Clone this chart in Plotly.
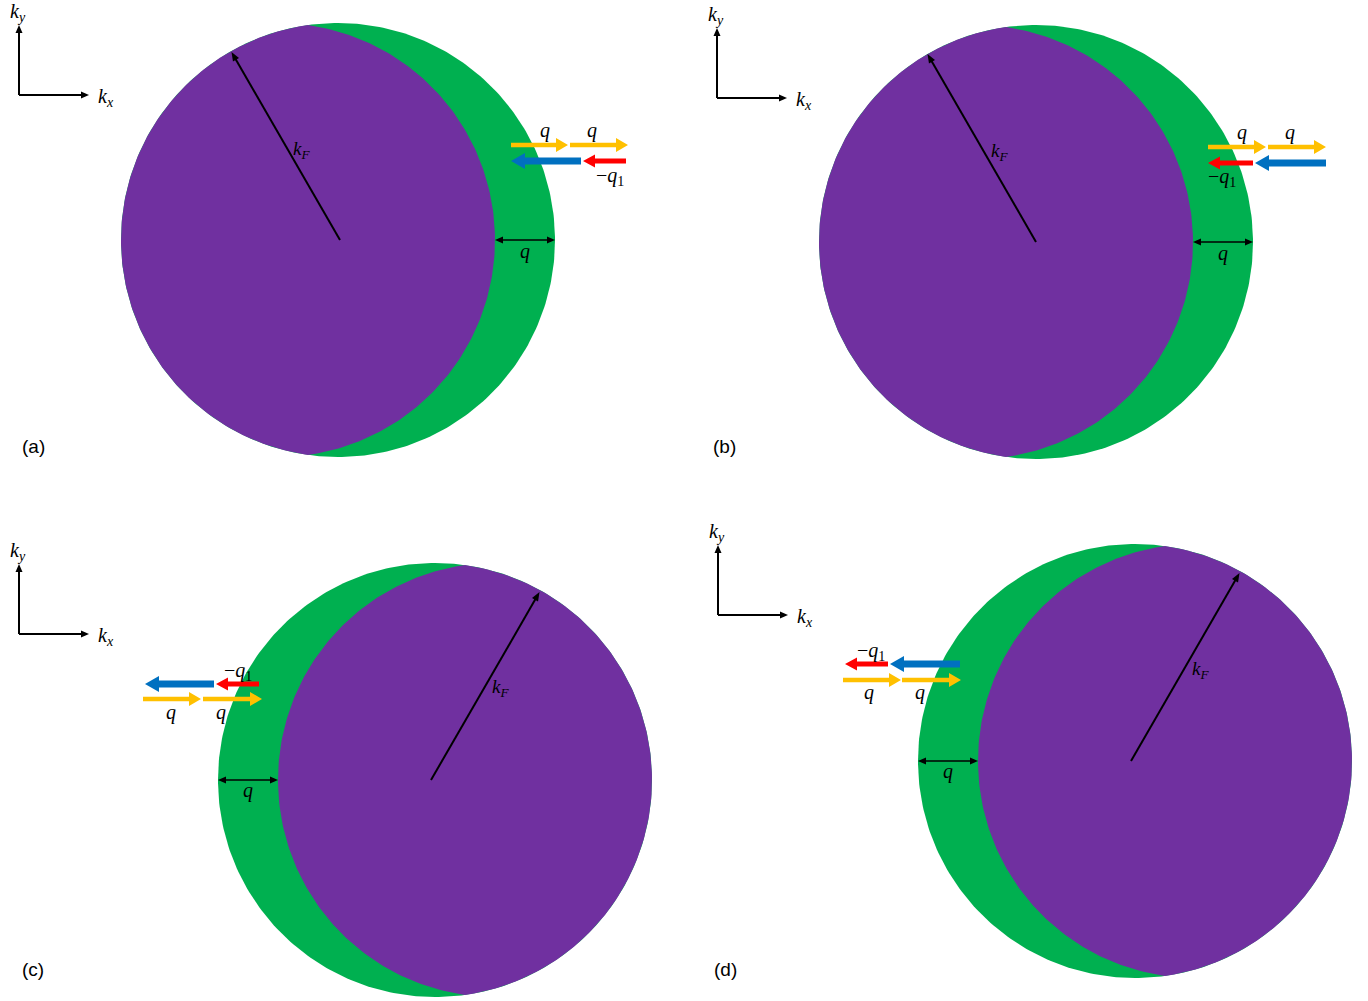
import numpy as np
import plotly.graph_objects as go

# Canvas in pixel units (y grows downward)
W, H = 1368, 1001

# Four panels: shifted Fermi disk (purple overlap, green crescent)
panel_labels = ["(a)", "(b)", "(c)", "(d)"]
label_x = [33, 724, 33, 725]
label_y = [446, 446, 969, 969]
center_x = [338, 1036, 435, 1135]
center_y = [240, 242, 780, 761]
fermi_radius = 217
shift_q = 60
crescent_side = [1, 1, -1, -1]      # +1: crescent to the right of the overlap
kf_angle_deg = [120, 120, 60, 60]
kf_origin_dx = [2, 0, -4, -4]
kf_label_dx = [-37, -37, 65, 65]
kf_label_dy = [-90, -90, -92, -91]
q_label_dy = [11, 11, 10, 10]

# k-space axes glyph per panel
axis_origin_x = [19, 717, 19, 718]
axis_origin_y = [95, 98, 634, 615]
axis_len = 70

# Scattering arrows: (panel, x_start, x_end, y, kind)
arrow_panel = [0, 0, 0, 0, 1, 1, 1, 1, 2, 2, 2, 2, 3, 3, 3, 3]
arrow_x0 = [511, 570, 581, 626, 1208, 1268, 1253, 1326, 214, 259, 143, 203, 888, 960, 843, 902]
arrow_x1 = [568, 628, 511, 583, 1266, 1326, 1208, 1255, 145, 216, 201, 262, 845, 890, 901, 961]
arrow_y = [145, 145, 161, 161, 147, 147, 163, 163, 684, 684, 699, 699, 664, 664, 680, 680]
arrow_kind = ["q", "q", "blue", "red", "q", "q", "red", "blue",
              "blue", "red", "q", "q", "red", "blue", "q", "q"]

# Text labels on the scattering arrows
q_text_x = [545, 592, 1242, 1290, 171, 221, 869, 920]
q_text_y = [130, 130, 132, 132, 712, 712, 692, 692]
mq1_text_x = [610, 1222, 238, 871]
mq1_text_y = [176, 177, 671, 651]

GREEN = "#00B050"
PURPLE = "#7030A0"
YELLOW = "#FFC000"
BLUE = "#0070C0"
RED = "#FF0000"
kind_style = {
    "q": dict(color=YELLOW, shaft=4.5, head_w=14, head_len=12),
    "blue": dict(color=BLUE, shaft=7, head_w=16, head_len=14),
    "red": dict(color=RED, shaft=5, head_w=13, head_len=12),
}

MATH_FONT = "Liberation Serif"


def circle_pts(cx, cy, r, n=361):
    t = np.linspace(0, 2 * np.pi, n)
    return cx + r * np.cos(t), cy + r * np.sin(t)


def lens_pts(cx_a, cx_b, cy, r, n=200):
    """Outline of the intersection of two equal circles on a horizontal line."""
    left, right = min(cx_a, cx_b), max(cx_a, cx_b)
    half = (right - left) / 2.0
    phi = np.arccos(half / r)
    # right boundary belongs to the left circle
    t1 = np.linspace(-phi, phi, n)
    xr, yr = left + r * np.cos(t1), cy + r * np.sin(t1)
    # left boundary belongs to the right circle
    t2 = np.linspace(np.pi - phi, np.pi + phi, n)
    xl, yl = right + r * np.cos(t2), cy + r * np.sin(t2)
    return np.concatenate([xr, xl, xr[:1]]), np.concatenate([yr, yl, yr[:1]])


def poly_path(pts):
    s = "M " + " L ".join(f"{x:.2f},{y:.2f}" for x, y in pts)
    return s + " Z"


def block_arrow(x0, x1, y, shaft, head_w, head_len):
    d = 1 if x1 > x0 else -1
    xb = x1 - d * head_len
    pts = [(x0, y - shaft / 2), (xb, y - shaft / 2), (xb, y - head_w / 2),
           (x1, y), (xb, y + head_w / 2), (xb, y + shaft / 2), (x0, y + shaft / 2)]
    return poly_path(pts)


def head_path(xt, yt, ux, uy, length=9, width=7):
    # triangle with tip at (xt, yt) pointing along unit (ux, uy)
    bx, by = xt - ux * length, yt - uy * length
    px, py = -uy, ux
    pts = [(xt, yt), (bx + px * width / 2, by + py * width / 2),
           (bx - px * width / 2, by - py * width / 2)]
    return poly_path(pts)


fig = go.Figure()
shapes = []
annotations = []


def thin_arrow(x0, y0, x1, y1, both=False, width=2, hl=9, hw=7):
    L = np.hypot(x1 - x0, y1 - y0)
    ux, uy = (x1 - x0) / L, (y1 - y0) / L
    sx0, sy0 = (x0 + ux * hl * 0.8, y0 + uy * hl * 0.8) if both else (x0, y0)
    sx1, sy1 = x1 - ux * hl * 0.8, y1 - uy * hl * 0.8
    shapes.append(dict(type="line", x0=sx0, y0=sy0, x1=sx1, y1=sy1,
                       line=dict(color="black", width=width)))
    shapes.append(dict(type="path", path=head_path(x1, y1, ux, uy, hl, hw),
                       fillcolor="black", line=dict(width=0)))
    if both:
        shapes.append(dict(type="path", path=head_path(x0, y0, -ux, -uy, hl, hw),
                           fillcolor="black", line=dict(width=0)))


def math_label(x, y, text, size=20):
    annotations.append(dict(x=x, y=y, text=text, showarrow=False,
                            xanchor="center", yanchor="middle",
                            font=dict(family=MATH_FONT, size=size, color="black")))


for i in range(4):
    cx, cy, s = center_x[i], center_y[i], crescent_side[i]
    # full (green) disk
    gx, gy = circle_pts(cx, cy, fermi_radius)
    fig.add_trace(go.Scatter(x=gx, y=gy, mode="lines", fill="toself",
                             fillcolor=GREEN, line=dict(width=0, color=GREEN),
                             hoverinfo="skip", showlegend=False))
    # overlap with the disk displaced by q (purple)
    px, py = lens_pts(cx, cx - s * shift_q, cy, fermi_radius)
    fig.add_trace(go.Scatter(x=px, y=py, mode="lines", fill="toself",
                             fillcolor=PURPLE, line=dict(width=0, color=PURPLE),
                             hoverinfo="skip", showlegend=False))

    # k_F radius
    a = np.deg2rad(kf_angle_deg[i])
    kx0 = cx + kf_origin_dx[i]
    ex, ey = kx0 + fermi_radius * np.cos(a), cy - fermi_radius * np.sin(a)
    thin_arrow(kx0, cy, ex, ey, width=2, hl=9, hw=7)
    math_label(cx + kf_label_dx[i], cy + kf_label_dy[i],
               "<i>k</i><sub><i>F</i></sub>", 19)

    # crescent width q
    xa = cx + s * fermi_radius
    xb = xa - s * shift_q
    thin_arrow(min(xa, xb), cy, max(xa, xb), cy, both=True, width=1.6, hl=8, hw=7)
    math_label((xa + xb) / 2, cy + q_label_dy[i], "<i>q</i>", 20)

    # k-space axes
    ox, oy = axis_origin_x[i], axis_origin_y[i]
    thin_arrow(ox, oy, ox, oy - axis_len, width=2, hl=8, hw=7)
    thin_arrow(ox, oy, ox + axis_len, oy, width=2, hl=8, hw=7)
    math_label(ox - 1, oy - axis_len - 13, "<i>k</i><sub><i>y</i></sub>", 20)
    math_label(ox + axis_len + 17, oy + 2, "<i>k</i><sub><i>x</i></sub>", 20)

    # panel tag
    annotations.append(dict(x=label_x[i], y=label_y[i], text=panel_labels[i],
                            showarrow=False, xanchor="center", yanchor="middle",
                            font=dict(family="Liberation Sans", size=19, color="black")))

# scattering arrows
for k in range(len(arrow_kind)):
    st = kind_style[arrow_kind[k]]
    shapes.append(dict(type="path",
                       path=block_arrow(arrow_x0[k], arrow_x1[k], arrow_y[k],
                                        st["shaft"], st["head_w"], st["head_len"]),
                       fillcolor=st["color"], line=dict(width=0)))

for x, y in zip(q_text_x, q_text_y):
    math_label(x, y, "<i>q</i>", 20)
for x, y in zip(mq1_text_x, mq1_text_y):
    math_label(x, y, "\u2212<i>q</i><sub>1</sub>", 20)

fig.update_layout(
    width=W, height=H,
    margin=dict(l=0, r=0, t=0, b=0),
    paper_bgcolor="white", plot_bgcolor="white",
    xaxis=dict(range=[0, W], visible=False, fixedrange=True),
    yaxis=dict(range=[H, 0], visible=False, fixedrange=True),
    shapes=shapes, annotations=annotations,
    showlegend=False,
)

fig.write_html("out.html", config={"displayModeBar": False})
